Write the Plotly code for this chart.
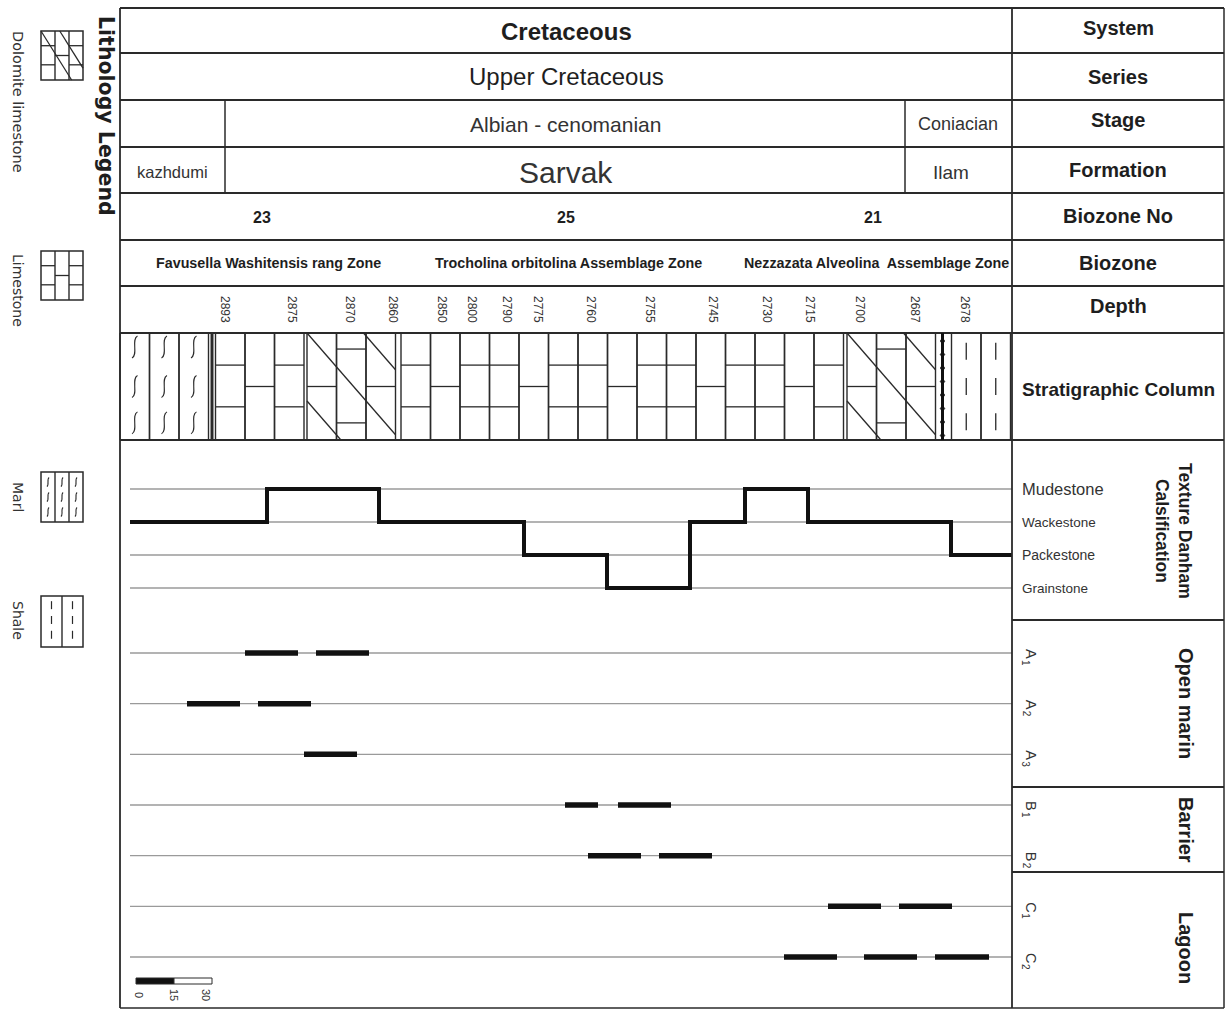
import plotly.graph_objects as go

# ------------------------------------------------------------------ data
SYSTEM = "Cretaceous"
SERIES = "Upper Cretaceous"
STAGES = ["Albian - cenomanian", "Coniacian"]
FORMATIONS = ["kazhdumi", "Sarvak", "Ilam"]
BIOZONE_NO = ["23", "25", "21"]
BIOZONES = ["Favusella Washitensis rang Zone",
            "Trocholina orbitolina Assemblage Zone",
            "Nezzazata Alveolina&nbsp; Assemblage Zone"]
ROW_TITLES = ["System", "Series", "Stage", "Formation", "Biozone No",
              "Biozone", "Depth", "Stratigraphic Column"]

DEPTHS = ["2893", "2875", "2870", "2860", "2850", "2800", "2790", "2775",
          "2760", "2755", "2745", "2730", "2715", "2700", "2687", "2678"]
DEPTH_AT = [105, 172, 230, 273, 322, 352, 387, 418, 471, 530, 593, 647,
            690, 740, 795, 845]          # position along the section

LITHO_BEDS = ["Marl", "Limestone", "Dolomite limestone", "Limestone",
              "Dolomite limestone", "Shale"]
LITHO_CELLS = [3, 3, 3, 15, 3, 2]
LEGEND_ITEMS = ["Dolomite limestone", "Limestone", "Marl", "Shale"]

TEXTURE_CLASSES = ["Grainstone", "Packestone", "Wackestone", "Mudestone"]
TEXTURE_AT = [10, 147, 259, 404, 487, 570, 625, 688, 831, 892]
TEXTURE_SEQ = ["Wackestone", "Mudestone", "Wackestone", "Packestone",
               "Grainstone", "Wackestone", "Mudestone", "Wackestone",
               "Packestone"]

FACIES = ["A1", "A2", "A3", "B1", "B2", "C1", "C2"]
ENVIRONMENTS = ["Open marin", "Barrier", "Lagoon"]
OCC_FACIES = ["A1", "A1", "A2", "A2", "A3", "B1", "B1", "B2", "B2",
              "C1", "C1", "C2", "C2", "C2"]
OCC_FROM = [125, 196, 67, 138, 184, 445, 498, 468, 539, 708, 779, 664, 744, 815]
OCC_TO = [178, 249, 120, 191, 237, 478, 551, 521, 592, 761, 832, 717, 797, 869]
SCALE_TICKS = ["0", "15", "30"]

# ------------------------------------------------------------------ layout helpers
W, H = 1227, 1010
LEFT = 120                      # pixel of section origin


def X(px):
    return px - LEFT


FONT = "Liberation Sans, Arial, sans-serif"
DARK = "#1e1e1e"
GREY_TXT = "#333333"
LINE = "#2a2a2a"

shapes, anns = [], []


def line(x0, y0, x1, y1, w=1.3, c=LINE, yref="y", layer="above"):
    shapes.append(dict(type="line", xref="x", yref=yref, x0=x0, y0=y0,
                       x1=x1, y1=y1, line=dict(color=c, width=w), layer=layer))


def rect(x0, y0, x1, y1, fill="rgba(0,0,0,0)", w=1.3, c=LINE):
    shapes.append(dict(type="rect", xref="x", yref="y", x0=x0, y0=y0, x1=x1,
                       y1=y1, fillcolor=fill, line=dict(color=c, width=w)))


def path(d, w=1.2, c=LINE):
    shapes.append(dict(type="path", xref="x", yref="y", path=d,
                       line=dict(color=c, width=w)))


def text(x, y, t, size, bold=False, color=DARK, angle=0, xanchor="center",
         family=FONT, yref="y", yshift=0):
    if bold:
        t = "<b>" + t + "</b>"
    anns.append(dict(x=x, y=y, xref="x", yref=yref, text=t, showarrow=False,
                     font=dict(size=size, color=color, family=family),
                     textangle=angle, xanchor=xanchor, yanchor="middle",
                     yshift=yshift))


def brick(x0, x1, y0, y1, kind, j):
    h = y1 - y0
    if kind == "Limestone":
        fr = [0.5] if j % 3 == 1 else [0.30, 0.69]
    else:
        fr = [0.5] if j % 2 == 0 else [0.15, 0.84]
    for f in fr:
        line(x0, y0 + f * h, x1, y0 + f * h, w=1.3)


def diagonals(x0, x1, y0, y1, slope, offsets):
    for c in offsets:
        xa = x0 + max(0.0, -c / slope)
        xb = min(x1, x0 + (y1 - y0 - c) / slope)
        if xb > xa:
            line(xa, y0 + slope * (xa - x0) + c, xb,
                 y0 + slope * (xb - x0) + c, w=1.3)


def squiggle(cx, cy, hh):
    path(f"M {cx+hh*0.25},{cy-hh} C {cx-hh*0.35},{cy-hh*0.7} "
         f"{cx+hh*0.35},{cy+hh*0.7} {cx-hh*0.25},{cy+hh}", w=1.1)


# ------------------------------------------------------------------ table frame
ROW_EDGES = [8, 53, 100, 147, 193, 240, 286, 333, 440]
SEC_END = 1012
RIGHT = 1224
for y in ROW_EDGES:
    line(X(LEFT), y, X(RIGHT), y, w=1.8)
line(X(LEFT), 1008, X(RIGHT), 1008, w=1.5)
for y in [620, 787, 872]:
    line(X(SEC_END), y, X(RIGHT), y, w=1.8)
line(X(LEFT), 8, X(LEFT), 1008, w=1.8)
line(X(SEC_END), 8, X(SEC_END), 1008, w=1.8)
line(X(RIGHT), 8, X(RIGHT), 1008, w=1.5)
for px in [225, 905]:
    line(X(px), 100, X(px), 193, w=1.5)

# header texts
text(X(566), 31, SYSTEM, 24, bold=True)
text(X(566), 76, SERIES, 24, color=DARK)
text(X(565), 124, STAGES[0], 21, color=GREY_TXT)
text(X(958), 124, STAGES[1], 18, color=GREY_TXT)
for t, px, s in zip(FORMATIONS, [172, 566, 951], [16.5, 30, 19]):
    text(X(px), 172, t, s, color=GREY_TXT)
for t, px in zip(BIOZONE_NO, [262, 566, 873]):
    text(X(px), 217, t, 16, bold=True)
for t, px in zip(BIOZONES, [268, 568, 876]):
    text(X(px), 263, t, 14.3, bold=True)
for t, y in zip(ROW_TITLES, [28, 77, 120, 170, 216, 263, 306, 389]):
    text(X(1118), y, t, 19 if len(t) > 12 else 20, bold=True)

# depth labels
for t, xp in zip(DEPTHS, DEPTH_AT):
    text(xp, 309, t, 12, color=GREY_TXT, angle=90)

# ------------------------------------------------------------------ stratigraphic column
COL_TOP, COL_BOT = 333, 440
CELL = 29.5
GAPS = [7, 3, 5.5, 3.5, 16]
xx = 0.0
cells, beds, gaps = [], [], []
for i, (bed, n) in enumerate(zip(LITHO_BEDS, LITHO_CELLS)):
    b0 = xx
    for j in range(n):
        cells.append((bed, j, xx, xx + CELL))
        xx += CELL
    beds.append((bed, b0, xx))
    if i < len(GAPS):
        gaps.append((xx, xx + GAPS[i]))
        xx += GAPS[i]

for bed, j, x0, x1 in cells:
    line(x0, COL_TOP, x0, COL_BOT, w=1.4)
    line(x1, COL_TOP, x1, COL_BOT, w=1.4)
    cx = (x0 + x1) / 2
    if bed == "Marl":
        for f in [0.13, 0.5, 0.84]:
            squiggle(cx, COL_TOP + f * (COL_BOT - COL_TOP), 11)
    elif bed == "Shale":
        for f in [0.17, 0.5, 0.83]:
            yc = COL_TOP + f * (COL_BOT - COL_TOP)
            line(cx, yc - 8.5, cx, yc + 8.5, w=1.3)
    elif bed == "Limestone":
        brick(x0, x1, COL_TOP, COL_BOT, "Limestone", j)
    else:
        brick(x0, x1, COL_TOP, COL_BOT, "Dolomite", j)

for bed, b0, b1 in beds:
    if bed == "Dolomite limestone":
        diagonals(b0, b1, COL_TOP, COL_BOT, 1.15, [-65, 0, 68])

# gap decorations
g0 = gaps[0]
line(g0[0] + 3.5, COL_TOP, g0[0] + 3.5, COL_BOT, w=3)
gb = gaps[-1]
bx = gb[0] + 7
line(bx, COL_TOP, bx, COL_BOT, w=3, c="#111")
yb = COL_TOP + 8
while yb < COL_BOT - 4:
    shapes.append(dict(type="path", xref="x", yref="y",
                       path=f"M {bx},{yb-3} L {bx+2.4},{yb} L {bx},{yb+3} L {bx-2.4},{yb} Z",
                       fillcolor="#111", line=dict(color="#111", width=0.5)))
    yb += 13.5

# ------------------------------------------------------------------ lithology legend (left)
text(X(106), 116, "Lithology Legend", 20.5, bold=True,
     family="DejaVu Sans, sans-serif", angle=90)
LEG = {"Dolomite limestone": (31, 80, 102), "Limestone": (251, 300, 290),
       "Marl": (472, 522, 497), "Shale": (596, 647, 620)}
for item in LEGEND_ITEMS:
    y0, y1, yl = LEG[item]
    x0, x1 = X(41), X(83)
    rect(x0, y0, x1, y1, w=1.5)
    text(X(18), yl, item, 14.5 if len(item) > 10 else 14, color=GREY_TXT, angle=90,
         family="DejaVu Sans, sans-serif")
    if item in ("Limestone", "Dolomite limestone", "Marl"):
        sw = (x1 - x0) / 3
        for j in range(3):
            a, b = x0 + j * sw, x0 + (j + 1) * sw
            if j:
                line(a, y0, a, y1, w=1.4)
            if item == "Marl":
                for f in [0.2, 0.5, 0.8]:
                    squiggle((a + b) / 2, y0 + f * (y1 - y0), 4.5)
            else:
                brick(a, b, y0, y1, "Limestone", j)
        if item == "Dolomite limestone":
            diagonals(x0, x1, y0, y1, 1.6, [-30, 0])
    else:
        xm = (x0 + x1) / 2
        line(xm, y0, xm, y1, w=1.4)
        for cx in [(x0 + xm) / 2, (xm + x1) / 2]:
            for f in [0.18, 0.47, 0.76]:
                yc = y0 + f * (y1 - y0)
                line(cx, yc - 4, cx, yc + 4, w=1.2)

# ------------------------------------------------------------------ texture panel
lvl = {c: i + 1 for i, c in enumerate(TEXTURE_CLASSES)}
for c in TEXTURE_CLASSES:
    line(TEXTURE_AT[0], lvl[c], X(SEC_END), lvl[c], w=1.3, c="#9a9a9a",
         yref="y2", layer="below")
tex_y = [lvl[v] for v in TEXTURE_SEQ]
tex_y.append(tex_y[-1])
sizes = {"Mudestone": 16.5, "Wackestone": 13.5, "Packestone": 14, "Grainstone": 13.5}
for c in TEXTURE_CLASSES:
    text(X(1020), lvl[c], c, sizes[c], color=GREY_TXT, xanchor="left", yref="y2")
text(X(1174), 531, "Texture Danham<br>Calsification", 17.5, bold=True, angle=90)

# ------------------------------------------------------------------ facies panel
for k, f in enumerate(FACIES):
    line(TEXTURE_AT[0], k, X(SEC_END), k, w=1.3, c="#9a9a9a", yref="y3",
         layer="below")
    text(X(1031), k, f[0], 14.5, color=GREY_TXT, angle=90, yref="y3", yshift=-1)
    text(X(1026), k, f[1], 10, color=GREY_TXT, angle=90, yref="y3", yshift=-10)
fx, fy = [], []
for f, a, b in zip(OCC_FACIES, OCC_FROM, OCC_TO):
    fx += [a, b, None]
    fy += [f, f, None]
for env, yc in zip(ENVIRONMENTS, [703, 830, 948]):
    text(X(1186), yc, env, 20, bold=True, angle=90)

# scale bar
rect(X(136), 978, X(174), 984, fill="#111", w=1)
rect(X(174), 978, X(212), 984, fill="white", w=1)
for t, px in zip(SCALE_TICKS, [139, 174, 206]):
    text(X(px), 995, t, 11, color=GREY_TXT, angle=90)

# ------------------------------------------------------------------ figure
fig = go.Figure()
fig.add_trace(go.Scatter(x=TEXTURE_AT, y=tex_y, mode="lines", line_shape="hv",
                         line=dict(color="#111", width=4), yaxis="y2",
                         hoverinfo="skip", showlegend=False))
fig.add_trace(go.Scatter(x=fx, y=fy, mode="lines", line=dict(color="#111", width=5.5),
                         yaxis="y3", hoverinfo="skip", showlegend=False,
                         connectgaps=False))


def dom(p0, p1):
    return [(H - p1) / H, (H - p0) / H]


fig.update_layout(
    width=W, height=H, margin=dict(l=0, r=0, t=0, b=0),
    paper_bgcolor="white", plot_bgcolor="white", showlegend=False,
    xaxis=dict(range=[-LEFT, W - LEFT], domain=[0, 1], visible=False, fixedrange=True),
    yaxis=dict(range=[H, 0], domain=[0, 1], visible=False, fixedrange=True),
    yaxis2=dict(range=[1 - 32 / 33, 4 + 49 / 33], domain=dom(440, 620), anchor="x",
                visible=False, fixedrange=True),
    yaxis3=dict(type="category", categoryorder="array", categoryarray=FACIES,
                range=[(1008 - 653) / 50.67, (620 - 653) / 50.67], domain=dom(620, 1008),
                anchor="x", visible=False, fixedrange=True),
    shapes=shapes, annotations=anns,
)
fig.write_html("out.html", post_script="document.body.style.margin='0';",
               config={"displayModeBar": False})
